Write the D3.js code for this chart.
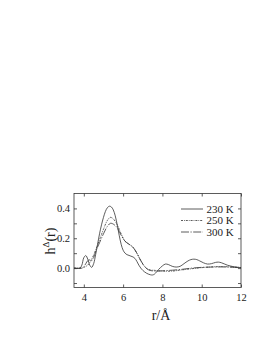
<!DOCTYPE html>
<html><head><meta charset="utf-8">
<script src="https://cdn.jsdelivr.net/npm/d3@7"></script>
<style>body{margin:0;background:#fff}svg{display:block}text{font-family:"Liberation Serif","Times New Roman",serif;fill:#222}</style>
</head><body>
<script>
const seriesNames = ["230 K", "250 K", "300 K"];
const r230 = [3.5,3.8,3.9,4.0,4.1,4.2,4.3,4.4,4.5,4.6,4.7,4.8,4.9,5.0,5.1,5.2,5.3,5.4,5.5,5.6,5.7,5.8,5.9,6.0,6.1,6.2,6.3,6.4,6.5,6.6,6.7,6.8,6.9,7.0,7.2,7.4,7.5,7.6,7.8,8.0,8.15,8.3,8.5,8.7,8.9,9.1,9.3,9.45,9.6,9.75,9.9,10.1,10.3,10.5,10.7,10.85,11.0,11.3,11.6,12.0];
const h230 = [0,0,0.02,0.07,0.084,0.06,0.02,0.005,0.03,0.09,0.16,0.23,0.29,0.34,0.38,0.405,0.415,0.41,0.39,0.35,0.29,0.22,0.16,0.12,0.10,0.09,0.085,0.08,0.075,0.065,0.045,0.02,0.0,-0.015,-0.035,-0.045,-0.046,-0.04,-0.01,0.015,0.027,0.024,0.012,0.007,0.012,0.03,0.048,0.057,0.06,0.057,0.048,0.035,0.027,0.03,0.038,0.04,0.036,0.02,0.01,0.003];
const r250 = [3.5,3.9,4.0,4.2,4.4,4.6,4.8,5.0,5.2,5.35,5.5,5.7,5.9,6.1,6.3,6.5,6.7,6.9,7.1,7.3,7.6,8.0,8.5,9.0,9.5,10.0,10.5,11.0,11.5,12.0];
const h250 = [0,0,0.005,0.02,0.06,0.12,0.19,0.26,0.32,0.34,0.33,0.29,0.23,0.18,0.16,0.14,0.10,0.05,0.01,-0.01,-0.015,-0.02,-0.02,-0.012,-0.004,0.003,0.008,0.01,0.008,0.004];
const r300 = [3.5,3.9,4.0,4.1,4.2,4.3,4.4,4.5,4.6,4.8,5.0,5.2,5.35,5.5,5.7,5.9,6.1,6.3,6.5,6.7,6.9,7.1,7.3,7.6,8.0,8.5,9.0,9.5,10.0,10.5,11.0,11.5,12.0];
const h300 = [0,0,0.01,0.03,0.05,0.055,0.05,0.07,0.11,0.17,0.23,0.28,0.30,0.295,0.27,0.22,0.18,0.16,0.14,0.10,0.05,0.01,-0.012,-0.02,-0.018,-0.014,-0.008,0.0,0.005,0.007,0.008,0.006,0.002];
const xTicks = [4,6,8,10,12];
const yTicks = [-0.1,0,0.1,0.2,0.3,0.4];
const yLabels = [0,0.2,0.4];

const W=275,H=337;
const svg=d3.select("body").append("svg").attr("width",W).attr("height",H);
const x=d3.scaleLinear().domain([3.5,12]).range([74,241]);
const y=d3.scaleLinear().domain([-0.13,0.5]).range([287.5,193.5]);
const col="#333";

const series=[
  {name:seriesNames[0],r:r230,h:h230,dash:null},
  {name:seriesNames[1],r:r250,h:h250,dash:"2,1,0.8,1"},
  {name:seriesNames[2],r:r300,h:h300,dash:"8,1.5,1.2,1.5"}
];
const line=d3.line().x(d=>x(d[0])).y(d=>y(d[1])).curve(d3.curveCatmullRom);
series.forEach(s=>{
  svg.append("path").datum(s.r.map((v,i)=>[v,s.h[i]]))
    .attr("d",line).attr("fill","none").attr("stroke",col).attr("stroke-width",0.8)
    .attr("stroke-dasharray",s.dash);
});

svg.append("rect").attr("x",74).attr("y",193.5).attr("width",167).attr("height",94)
  .attr("fill","none").attr("stroke",col).attr("stroke-width",0.8);

const ax=d3.axisBottom(x).tickValues(xTicks).tickSize(-3).tickPadding(6).tickFormat(d3.format("d"));
const gx=svg.append("g").attr("transform","translate(0,287.5)").call(ax);
const axT=d3.axisTop(x).tickValues(xTicks).tickSize(-3).tickFormat("");
const gxt=svg.append("g").attr("transform","translate(0,193.5)").call(axT);
const ay=d3.axisLeft(y).tickValues(yTicks).tickSize(-3).tickPadding(4)
  .tickFormat(d=>yLabels.some(v=>Math.abs(v-d)<1e-9)?d3.format(".1f")(d):"");
const gy=svg.append("g").attr("transform","translate(74,0)").call(ay);
const ayR=d3.axisRight(y).tickValues(yTicks).tickSize(-3).tickFormat("");
const gyr=svg.append("g").attr("transform","translate(241,0)").call(ayR);
[gx,gxt,gy,gyr].forEach(g=>{
  g.select(".domain").remove();
  g.selectAll("line").attr("stroke",col).attr("stroke-width",0.8);
  g.selectAll("text").attr("font-family","Liberation Serif, serif").attr("font-size",10.5).attr("fill","#222");
});

const lg=svg.append("g");
series.forEach((s,i)=>{
  const yy=209+i*11.5;
  lg.append("line").attr("x1",181).attr("x2",203).attr("y1",yy).attr("y2",yy)
    .attr("stroke",col).attr("stroke-width",0.8).attr("stroke-dasharray",s.dash);
  lg.append("text").attr("x",206.5).attr("y",yy).attr("dy","0.35em").attr("font-size",11).text(s.name);
});

svg.append("text").attr("x",161).attr("y",320).attr("text-anchor","middle").attr("font-size",14).text("r/Å");
const yl=svg.append("text").attr("transform","translate(55,241) rotate(-90)").attr("text-anchor","middle").attr("font-size",14);
yl.append("tspan").text("h");
yl.append("tspan").attr("font-size",9).attr("dy",-6).text("Δ");
yl.append("tspan").attr("dy",6).text("(r)");
</script>
</body></html>
